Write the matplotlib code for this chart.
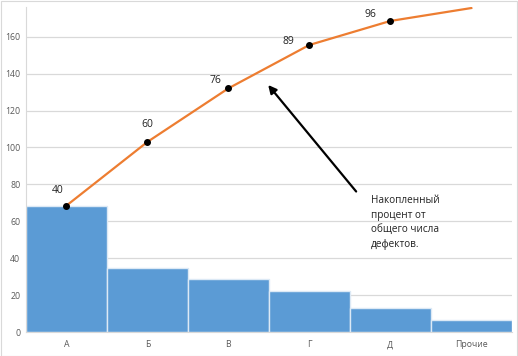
import matplotlib
matplotlib.use('Agg')
import matplotlib.pyplot as plt
from matplotlib.patches import Rectangle

# data
categories = ['А', 'Б', 'В', 'Г', 'Д', 'Прочие']
defects = [68.5, 34.5, 29, 22.5, 13, 6.5]
cumulative = [68.5, 103, 132, 155.5, 168.5, 175.5]
pct_labels = ['40', '60', '76', '89', '96']

plt.rcParams['font.family'] = ['Open Sans', 'DejaVu Sans']

fig = plt.figure(figsize=(5.18, 3.56), dpi=100)
ax = fig.add_axes([0.05, 0.067, 0.938, 0.913])

x = list(range(len(categories)))
ax.bar(x, defects, width=1.0, color='#5B9BD5', edgecolor='#DCE9F5', linewidth=1.0, zorder=2)
ax.plot(x, cumulative, color='#ED7D31', linewidth=1.6, zorder=3)
ax.plot(x[:len(pct_labels)], cumulative[:len(pct_labels)], 'o', color='black', markersize=4, zorder=4)

offsets = [(-6, 7), (0, 8.5), (-9, 1.5), (-15, -1.5), (-14, 0.5)]
for i, lab in enumerate(pct_labels):
    ax.annotate(lab, (x[i], cumulative[i]), xytext=offsets[i], textcoords='offset points',
                ha='center', va='bottom', fontsize=7.5, color='#222222')

ax.set_xlim(-0.5, 5.5)
ax.set_ylim(0, 176)
ax.set_yticks(range(0, 161, 20))
ax.set_xticks(x)
ax.set_xticklabels(categories)
ax.tick_params(axis='both', length=0, labelsize=6.3, colors='#595959')
ax.tick_params(axis='y', pad=4)
ax.tick_params(axis='x', pad=6)
ax.grid(axis='y', color='#D9D9D9', linewidth=0.9, zorder=0)
ax.set_axisbelow(True)
for s in ['top', 'right']:
    ax.spines[s].set_visible(False)
ax.spines['left'].set_color('#D9D9D9')
ax.spines['bottom'].set_color('#D9D9D9')

# arrow and note
ax.annotate('', xy=(2.47, 135), xytext=(3.6, 75),
            arrowprops=dict(arrowstyle='-|>', color='black', lw=1.6, mutation_scale=12))
fig.text(0.716, 0.452, 'Накопленный\nпроцент от\nобщего числа\nдефектов.',
         fontsize=7.2, color='#222222', ha='left', va='top', linespacing=1.45)

fig.patches.append(Rectangle((0.001, 0.001), 0.997, 0.997, transform=fig.transFigure,
                             fill=False, edgecolor='#D9D9D9', linewidth=0.8))

fig.savefig('out.png', dpi=100)
